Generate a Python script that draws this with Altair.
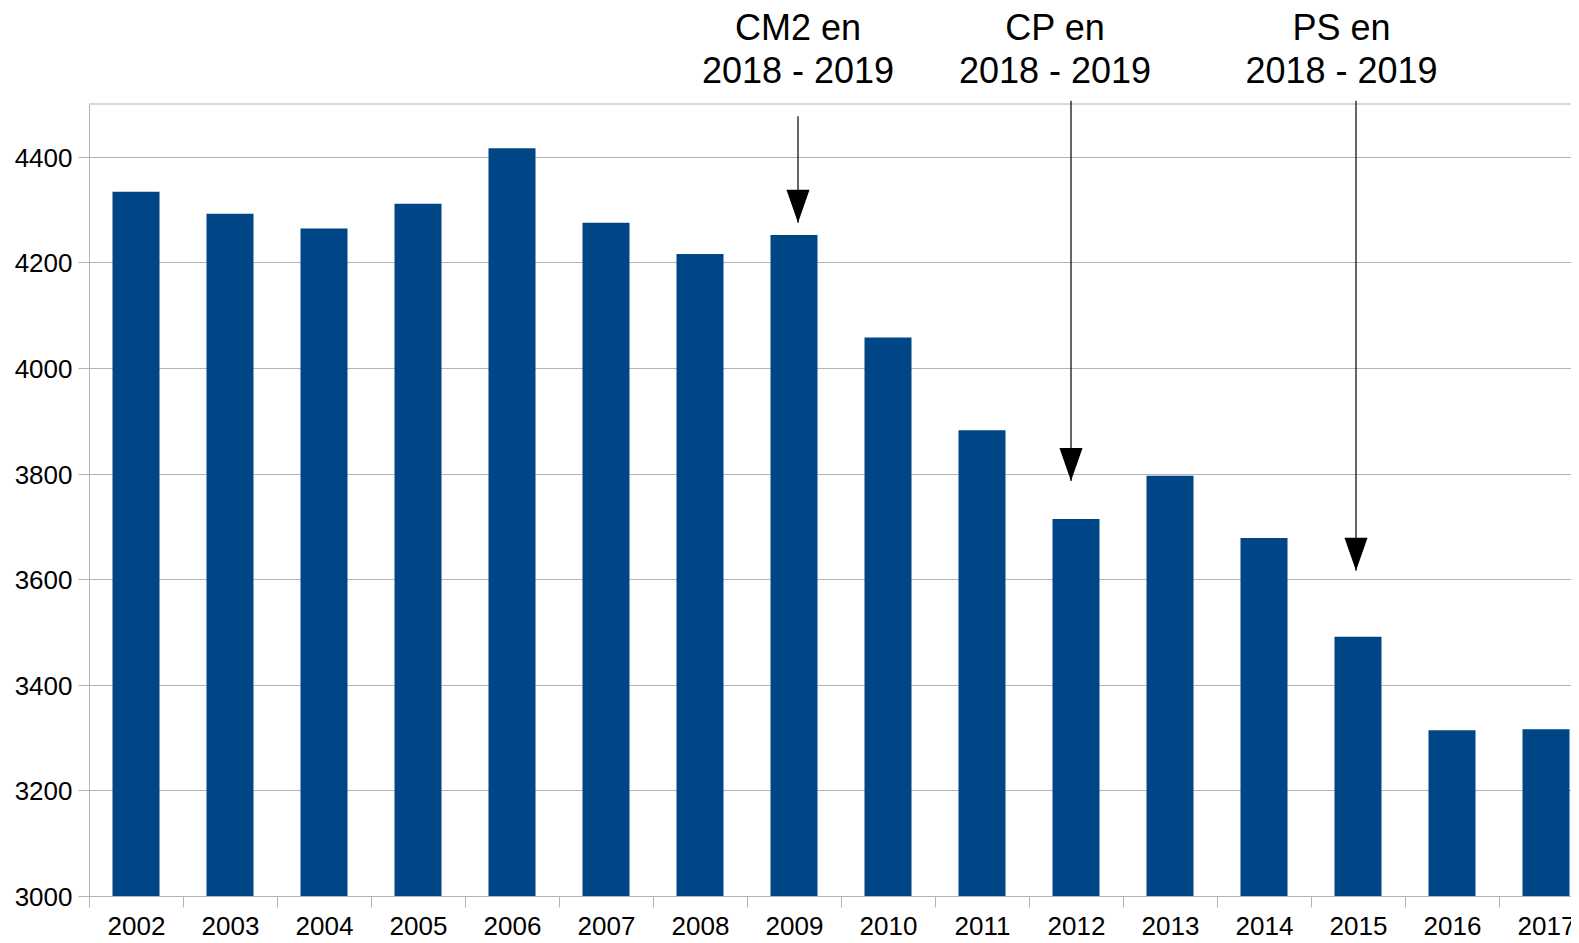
import altair as alt
import pandas as pd

# ---- data ----
years = ["2002", "2003", "2004", "2005", "2006", "2007", "2008", "2009",
         "2010", "2011", "2012", "2013", "2014", "2015", "2016", "2017"]
values = [4334, 4292, 4264, 4311, 4416, 4275, 4216, 4252,
          4058, 3882, 3714, 3796, 3678, 3491, 3314, 3316]

y_ticks = [3000, 3200, 3400, 3600, 3800, 4000, 4200, 4400]
y_base = 3000
y_top = 4500

ann_year = ["2009", "2012", "2015"]
ann_label = ["CM2 en\n2018 - 2019", "CP en\n2018 - 2019", "PS en\n2018 - 2019"]
ann_start = [4477, 4506, 4506]
ann_tip = [4275, 3786, 3616]

# ---- styles ----
FONT = "Liberation Sans"
GRID = "#b3b3b3"
BAR = "#004586"
arrow_dx = [4, -5, -2]
text_dx = [4, -21, -16.5]
ARROW_PATH = "M-0.7,-1 L0.7,-1 L0,1 Z"

bars_df = pd.DataFrame({"year": years, "value": values})
ann_df = pd.DataFrame({"year": ann_year, "label": ann_label,
                       "start": ann_start, "tip": ann_tip})

x_scale = alt.Scale(domain=years, range=[0, 1504], paddingInner=0, paddingOuter=0)
y_scale = alt.Scale(domain=[y_base, y_top], nice=False, zero=False)

x_axis = alt.Axis(title=None, labelAngle=0, labelFont=FONT, labelFontSize=26,
                  labelColor="black", tickBand="extent", tickSize=11,
                  tickColor=GRID, domainColor=GRID, labelPadding=6, grid=False)
y_axis = alt.Axis(title=None, values=y_ticks, format="d", labelFont=FONT, labelFontSize=26,
                  labelColor="black", tickSize=11, tickColor=GRID, domainColor=GRID,
                  gridColor=GRID, grid=True, labelPadding=6, labelOffset=1.5)

bars = alt.Chart(bars_df).mark_bar(color=BAR, width=alt.RelativeBandSize(0.5)).encode(
    x=alt.X("year:N", scale=x_scale, axis=x_axis, sort=years),
    y=alt.Y("value:Q", scale=y_scale, axis=y_axis),
    y2=alt.datum(y_base),
)

top_line = alt.Chart(pd.DataFrame({"v": [y_top]})).mark_rule(color=GRID, strokeWidth=1).encode(
    y=alt.Y("v:Q", scale=y_scale)
)

layers = [bars, top_line]
for i, lab in enumerate(ann_label):
    base = alt.Chart(ann_df).transform_filter(alt.datum.label == lab)
    rule = base.mark_rule(color="black", strokeWidth=1.2, xOffset=arrow_dx[i]).encode(
        x=alt.X("year:N", scale=x_scale),
        y=alt.Y("start:Q", scale=y_scale),
        y2="tip:Q",
    )
    head = base.mark_point(shape=ARROW_PATH, size=1089, filled=True, opacity=1,
                           color="black", xOffset=arrow_dx[i], yOffset=-16.5).encode(
        x=alt.X("year:N", scale=x_scale),
        y=alt.Y("tip:Q", scale=y_scale),
    )
    txt = base.mark_text(font=FONT, fontSize=36, color="black", align="center",
                         baseline="alphabetic", lineBreak="\n", lineHeight=43,
                         dx=text_dx[i]).encode(
        x=alt.X("year:N", scale=x_scale),
        y=alt.value(-64),
        text="label:N",
    )
    layers += [rule, head, txt]

chart = alt.layer(*layers).properties(
    width=1482, height=792,
    autosize=alt.AutoSizeParams(type="none"),
    padding={"left": 81, "top": 96, "right": 0, "bottom": 39},
    background="white",
).configure_view(stroke=None)

chart.save("out.html", embed_options={"renderer": "svg", "actions": False})
